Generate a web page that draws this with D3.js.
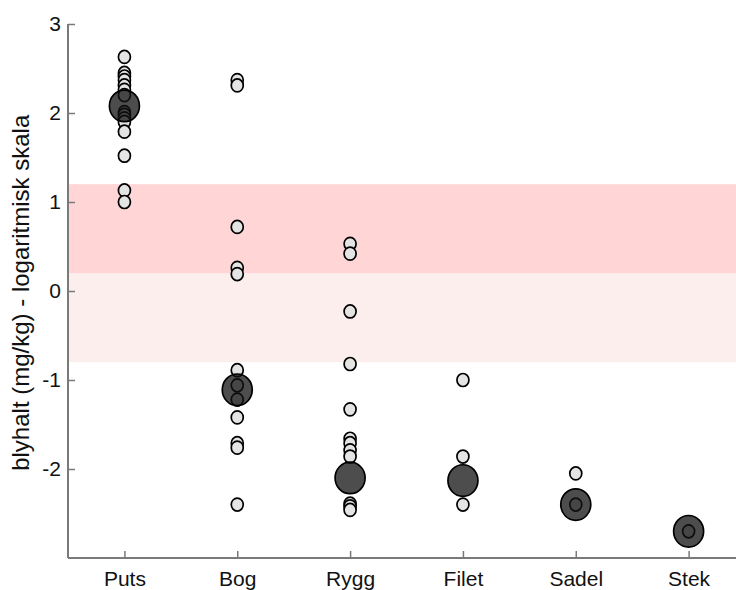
<!DOCTYPE html>
<html>
<head>
<meta charset="utf-8">
<script src="https://cdn.jsdelivr.net/npm/d3@7"></script>
<style>
  html, body { margin: 0; padding: 0; background: #fff; }
  svg { display: block; font-family: "Liberation Sans", Arial, sans-serif; }
</style>
</head>
<body>
<svg id="chart" width="736" height="590"></svg>
<script>
// ---- data (log10 of lead content, mg/kg) ----
const categories = ["Puts", "Bog", "Rygg", "Filet", "Sadel", "Stek"];
const putsValues  = [2.63, 2.45, 2.41, 2.37, 2.31, 2.26, 2.20, 2.01, 1.98, 1.94, 1.90, 1.79, 1.52, 1.13, 1.00];
const bogValues   = [2.37, 2.31, 0.72, 0.26, 0.19, -0.89, -1.06, -1.22, -1.42, -1.71, -1.76, -2.40];
const ryggValues  = [0.53, 0.42, -0.23, -0.82, -1.33, -1.66, -1.71, -1.79, -1.86, -2.39, -2.42, -2.46];
const filetValues = [-1.00, -1.86, -2.40];
const sadelValues = [-2.05, -2.40];
const stekValues  = [-2.70];
const meanValues  = [2.08, -1.11, -2.10, -2.13, -2.40, -2.70];
const upperBand   = [0.2, 1.2];
const lowerBand   = [-0.8, 0.2];
const yTickValues = [-2, -1, 0, 1, 2, 3];
const yLabel = "blyhalt (mg/kg) - logaritmisk skala";

const sampleSets = [putsValues, bogValues, ryggValues, filetValues, sadelValues, stekValues];
const samples = [];
sampleSets.forEach((arr, i) => arr.forEach(v => samples.push({ cat: i + 1, v })));
const means = meanValues.map((v, i) => ({ cat: i + 1, v }));

// ---- layout ----
const svg = d3.select("#chart");
const x0 = 68, xMax = 736, yTop = 24, yBottom = 558;
const x = d3.scaleLinear().domain([0.5, 6.42]).range([x0, xMax]);
const y = d3.scaleLinear().domain([-3, 3]).range([yBottom, yTop]);

// bands
svg.append("rect")
  .attr("x", x0).attr("width", xMax - x0)
  .attr("y", y(lowerBand[1])).attr("height", y(lowerBand[0]) - y(lowerBand[1]))
  .attr("fill", "#fdeeee");
svg.append("rect")
  .attr("x", x0).attr("width", xMax - x0)
  .attr("y", y(upperBand[1])).attr("height", y(upperBand[0]) - y(upperBand[1]))
  .attr("fill", "#ffd5d5");

// small sample points
svg.append("g").selectAll("ellipse").data(samples).join("ellipse")
  .attr("cx", d => x(d.cat)).attr("cy", d => y(d.v))
  .attr("rx", 6).attr("ry", 6.5)
  .attr("fill", "#e4e4e4").attr("stroke", "#000").attr("stroke-width", 1.7);

// mean points (drawn over, slightly transparent)
svg.append("g").selectAll("ellipse").data(means).join("ellipse")
  .attr("cx", d => x(d.cat)).attr("cy", d => y(d.v))
  .attr("rx", 15).attr("ry", 15.8)
  .attr("fill", "#111").attr("fill-opacity", 0.75)
  .attr("stroke", "#000").attr("stroke-width", 1.7);

// axes
const axisColor = "#7a7a7a";
const yAxis = svg.append("g").attr("transform", `translate(${x0},0)`)
  .call(d3.axisLeft(y).tickValues(yTickValues).tickFormat(d => String(d))
    .tickSizeInner(-7).tickSizeOuter(0).tickPadding(7));
yAxis.select(".domain").attr("d", `M0,${yTop}V${yBottom}`);

const xAxis = svg.append("g").attr("transform", `translate(0,${yBottom})`)
  .call(d3.axisBottom(x).tickValues(d3.range(1, categories.length + 1))
    .tickFormat(d => categories[d - 1])
    .tickSizeInner(-7).tickSizeOuter(0).tickPadding(13));
xAxis.select(".domain").attr("d", `M${x0},0H${xMax}`);

[yAxis, xAxis].forEach(g => {
  g.select(".domain").attr("stroke", axisColor).attr("stroke-width", 2);
  g.selectAll(".tick line").attr("stroke", axisColor).attr("stroke-width", 1.5);
  g.selectAll(".tick text").attr("fill", "#111").attr("font-size", 21)
    .attr("font-family", "'Liberation Sans', Arial, sans-serif");
});

// y label
svg.append("text")
  .attr("transform", `translate(29,${y(-0.02)}) rotate(-90)`)
  .attr("text-anchor", "middle")
  .attr("font-size", 24)
  .attr("fill", "#111")
  .text(yLabel);
</script>
</body>
</html>
